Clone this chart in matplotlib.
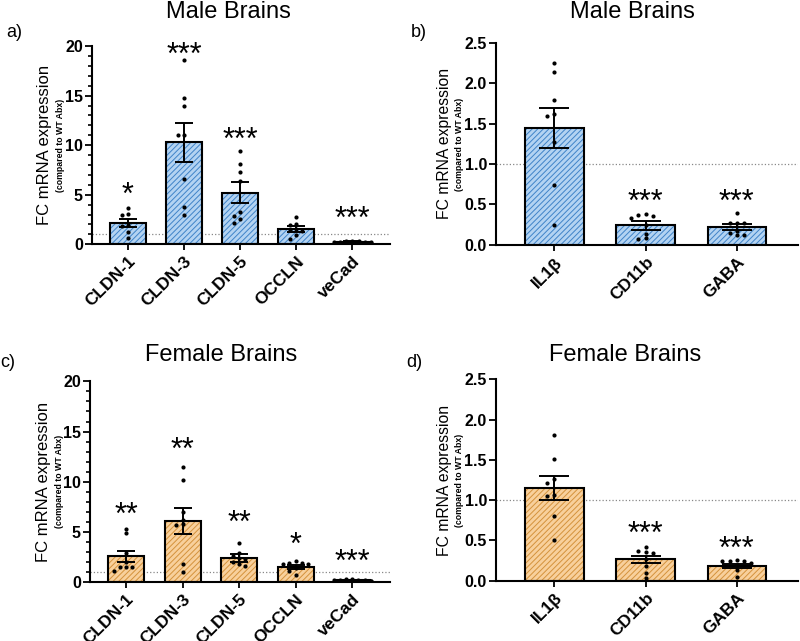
import numpy as np
import matplotlib
matplotlib.use("Agg")
import matplotlib.pyplot as plt
from matplotlib.transforms import offset_copy

plt.rcParams["font.family"] = ["Liberation Sans", "DejaVu Sans"]
plt.rcParams["hatch.linewidth"] = 0.7

# tight-junction genes (panels a, c)
tj_genes = ["CLDN-1", "CLDN-3", "CLDN-5", "OCCLN", "veCad"]
male_tj_mean = [2.15, 10.3, 5.2, 1.5, 0.25]
male_tj_sem = [0.4, 1.95, 1.05, 0.3, 0.03]
male_tj_pts = [
    [3.7, 3.1, 3.0, 1.9, 1.8, 1.2, 0.6],
    [18.6, 14.8, 14.0, 11.0, 11.0, 6.6, 3.8, 3.0],
    [9.4, 8.1, 7.3, 6.4, 3.3, 2.9, 2.5, 2.1],
    [2.75, 2.0, 1.9, 1.5, 1.45, 1.3, 0.9, 0.5],
    [0.35, 0.3, 0.28, 0.25, 0.22, 0.2, 0.18, 0.15],
]
male_tj_stars = ["*", "***", "***", "", "***"]
male_tj_star_y = [5.45, 19.6, 11.0, 0, 3.1]

female_tj_mean = [2.56, 6.1, 2.4, 1.5, 0.2]
female_tj_sem = [0.55, 1.3, 0.4, 0.2, 0.03]
female_tj_pts = [
    [5.3, 4.85, 2.9, 2.0, 1.5, 1.5, 1.5, 1.1],
    [11.5, 10.2, 7.0, 6.2, 5.8, 5.7, 1.8, 1.0],
    [3.85, 2.9, 2.6, 2.4, 2.3, 2.0, 1.8, 1.6],
    [2.05, 1.9, 1.85, 1.8, 1.75, 1.35, 1.1, 0.7],
    [0.3, 0.27, 0.25, 0.22, 0.2, 0.18, 0.15, 0.12],
]
female_tj_stars = ["**", "**", "**", "*", "***"]
female_tj_star_y = [7.15, 13.7, 6.4, 4.16, 2.55]

# inflammation / neuro markers (panels b, d)
mk_genes = ["IL1\u03b2", "CD11b", "GABA"]
male_mk_mean = [1.45, 0.24, 0.22]
male_mk_sem = [0.245, 0.05, 0.035]
male_mk_pts = [
    [2.25, 2.14, 1.79, 1.62, 1.60, 1.27, 0.74, 0.24],
    [0.38, 0.37, 0.36, 0.33, 0.25, 0.14, 0.09, 0.07],
    [0.40, 0.27, 0.27, 0.27, 0.17, 0.15, 0.12, 0.12],
]
male_mk_stars = ["", "***", "***"]
male_mk_star_y = [0, 0.59, 0.59]

female_mk_mean = [1.15, 0.265, 0.185]
female_mk_sem = [0.145, 0.045, 0.025]
female_mk_pts = [
    [1.81, 1.51, 1.26, 1.22, 1.07, 1.05, 0.8, 0.5],
    [0.42, 0.37, 0.36, 0.35, 0.27, 0.18, 0.1, 0.04],
    [0.26, 0.25, 0.25, 0.24, 0.22, 0.19, 0.13, 0.05],
]
female_mk_stars = ["", "***", "***"]
female_mk_star_y = [0, 0.64, 0.46]

BLUE_FACE, BLUE_HATCH = "#b3d3f2", "#3f83c8"
ORANGE_FACE, ORANGE_HATCH = "#f8d09c", "#d4923c"


def swarm_offsets(vals, dx, dy):
    # spread dots sideways when they sit at nearly the same height
    placed = []
    offs = []
    for v in vals:
        for k in [0, -1, 1, -2, 2, -3, 3]:
            x = k * dx
            if all(abs(x - px) > dx * 0.9 or abs(v - py) > dy for px, py in placed):
                break
        placed.append((x, v))
        offs.append(x)
    return offs


def draw_panel(ax, genes, means, sems, pts, stars, star_y, face, hatch,
               ymax, step, minor, capsize, dx):
    x = np.arange(len(genes))
    ax.bar(x, means, width=0.64, color=face, edgecolor=hatch, hatch="//////",
           linewidth=0, zorder=1)
    ax.bar(x, means, width=0.64, fill=False, edgecolor="black", linewidth=1.5,
           zorder=2)
    ax.errorbar(x, means, yerr=sems, fmt="none", ecolor="black", elinewidth=1.4,
                capsize=capsize, capthick=1.4, zorder=4)
    for i, vals in enumerate(pts):
        offs = swarm_offsets(vals, dx, ymax * 0.02)
        ax.scatter(x[i] + np.array(offs), vals, s=9, color="black", zorder=5,
                   linewidths=0)
    star_tr = offset_copy(ax.transData, fig=ax.figure, x=0, y=-6, units="dots")
    for i, s in enumerate(stars):
        if s:
            ax.text(x[i], star_y[i], s, ha="center", va="center", fontsize=22,
                    zorder=6, transform=star_tr)
    ax.axhline(1, color="#888888", ls=":", lw=0.9, zorder=0)
    ax.set_xlim(-0.64, len(genes) - 0.33)
    ax.set_ylim(0, ymax)
    ax.set_yticks(np.arange(0, ymax + step / 2, step))
    if minor:
        ax.set_yticks(np.arange(0, ymax + 0.01, minor), minor=True)
        ax.tick_params(axis="y", which="minor", length=3, width=1.2)
    if step < 1:
        ax.set_yticklabels([f"{t:.1f}" for t in ax.get_yticks()])
    ax.set_xticks(x)
    ax.set_xticklabels(genes, rotation=45, ha="right", rotation_mode="anchor",
                       fontweight="bold", fontsize=12.5)
    for lab in ax.get_yticklabels():
        lab.set_fontweight("bold")
        lab.set_fontsize(11.5)
    ax.tick_params(axis="y", which="major", length=5, width=1.3, pad=1.5)
    ax.tick_params(axis="x", length=4, width=1.3, pad=3)
    for side in ["top", "right"]:
        ax.spines[side].set_visible(False)
    for side in ["left", "bottom"]:
        ax.spines[side].set_linewidth(1.5)


fig = plt.figure(figsize=(8, 6.41), dpi=100)
ax_a = fig.add_axes([0.115, 0.619, 0.3725, 0.309])
ax_b = fig.add_axes([0.62, 0.618, 0.3775, 0.315])
ax_c = fig.add_axes([0.1125, 0.092, 0.375, 0.313])
ax_d = fig.add_axes([0.62, 0.094, 0.3775, 0.314])

draw_panel(ax_a, tj_genes, male_tj_mean, male_tj_sem, male_tj_pts, male_tj_stars,
           male_tj_star_y, BLUE_FACE, BLUE_HATCH, 20, 5, 1, 6.5, 0.11)
draw_panel(ax_b, mk_genes, male_mk_mean, male_mk_sem, male_mk_pts, male_mk_stars,
           male_mk_star_y, BLUE_FACE, BLUE_HATCH, 2.5, 0.5, None, 11, 0.08)
draw_panel(ax_c, tj_genes, female_tj_mean, female_tj_sem, female_tj_pts,
           female_tj_stars, female_tj_star_y, ORANGE_FACE, ORANGE_HATCH, 20, 5, 1,
           6.5, 0.11)
draw_panel(ax_d, mk_genes, female_mk_mean, female_mk_sem, female_mk_pts,
           female_mk_stars, female_mk_star_y, ORANGE_FACE, ORANGE_HATCH, 2.5, 0.5,
           None, 11, 0.08)

# y labels (two lines, second one smaller)
for ax, fs, x1, x2 in [(ax_a, 12, 0.056, 0.076), (ax_c, 12, 0.054, 0.074),
                       (ax_b, 11.3, 0.555, 0.575), (ax_d, 11.3, 0.555, 0.575)]:
    pos = ax.get_position()
    yc = (pos.y0 + pos.y1) / 2
    fig.text(x1, yc, "FC mRNA expression", rotation=90, ha="center",
             va="center", fontsize=fs)
    fig.text(x2, yc, "(compared to WT Abx)", rotation=90, ha="center",
             va="center", fontsize=6.3, fontweight="bold")

fig.text(0.285, 0.981, "Male Brains", ha="center", va="center", fontsize=17)
fig.text(0.79, 0.981, "Male Brains", ha="center", va="center", fontsize=17)
fig.text(0.277, 0.446, "Female Brains", ha="center", va="center", fontsize=17)
fig.text(0.781, 0.446, "Female Brains", ha="center", va="center", fontsize=17)

fig.text(0.008, 0.95, "a)", ha="left", va="center", fontsize=13)
fig.text(0.513, 0.95, "b)", ha="left", va="center", fontsize=13)
fig.text(0.0, 0.434, "c)", ha="left", va="center", fontsize=13)
fig.text(0.508, 0.434, "d)", ha="left", va="center", fontsize=13)

fig.savefig("out.png", dpi=100)
